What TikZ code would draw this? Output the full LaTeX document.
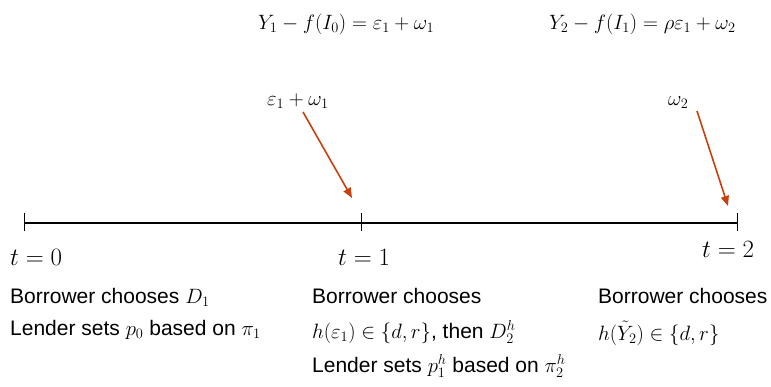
\documentclass[tikz,border=0pt]{standalone}
\usepackage{fontspec}
\setsansfont{Liberation Sans}
\usepackage{tikz}
\usetikzlibrary{arrows.meta}
\definecolor{sokRengi}{HTML}{C8400F}

\begin{document}
\begin{tikzpicture}[x=1pt,y=-1pt,
  metin/.style={font=\sffamily\fontsize{21}{24}\selectfont,anchor=base west,inner sep=0pt},
  denklem/.style={font=\fontsize{21}{24}\selectfont,anchor=base west,inner sep=0pt},
  zaman/.style={font=\fontsize{27}{30}\selectfont,anchor=base west,inner sep=0pt},
  sokok/.style={sokRengi,line width=1.6pt,-{Triangle[length=10pt,width=8pt]}}]
\useasboundingbox (0,0) rectangle (771,386);
% zaman ekseni
\coordinate (t0) at (24,223);
\coordinate (t1) at (361,223);
\coordinate (t2) at (737,223);
\draw[line width=2pt] (t0)--(t2);
\foreach \c in {t0,t1,t2}
  \draw[line width=1pt] ([yshift=10pt]\c)--([yshift=-8pt]\c);
% denklemler
\node[denklem] (denk1) at (258,29) {$Y_1-f(I_0)=\varepsilon_1+\omega_1$};
\node[denklem] (denk2) at (549,29) {$Y_2-f(I_1)=\rho\varepsilon_1+\omega_2$};
% soklar
\node[denklem] (sok1) at (267,105) {$\varepsilon_1+\omega_1$};
\node[denklem] (sok2) at (668,105) {$\omega_2$};
\coordinate (s1) at (303,112);
\coordinate (s2) at (697,111);
\coordinate (ok1) at (352,198);
\coordinate (ok2) at (728,206);
\draw[sokok] (s1)--(ok1);
\draw[sokok] (s2)--(ok2);
% zamanlar
\node[zaman] (z0) at (10,265) {$t=0$};
\node[zaman] (z1) at (338,265) {$t=1$};
\node[zaman] (z2) at (702,257) {$t=2$};
% kararlar
\node[metin] (b0) at (10,303) {Borrower chooses $D_1$};
\node[metin] (l0) at (10,335) {Lender sets $p_0$ based on $\pi_1$};
\node[metin] (b1) at (312,303) {Borrower chooses};
\node[metin] (h1) at (312,338) {$h(\varepsilon_1)\in\{d,r\}$, then $D_2^h$};
\node[metin] (l1) at (312,372) {Lender sets $p_1^h$ based on $\pi_2^h$};
\node[metin] (b2) at (598,303) {Borrower chooses};
\node[metin] (h2) at (598,340) {$h(\tilde{Y}_2)\in\{d,r\}$};
\end{tikzpicture}
\end{document}
